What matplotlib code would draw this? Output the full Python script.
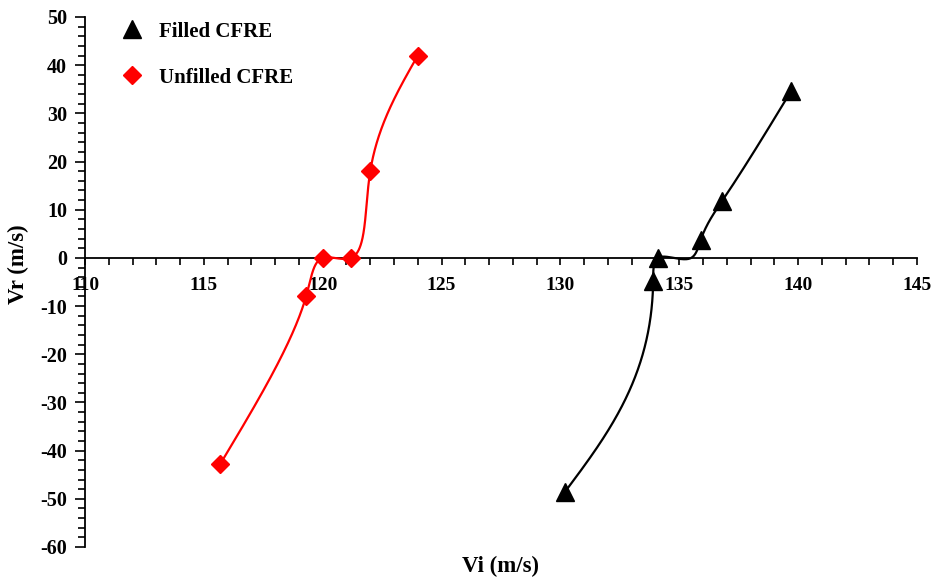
import numpy as np
import matplotlib
matplotlib.use("Agg")
import matplotlib.pyplot as plt
from matplotlib.lines import Line2D
from matplotlib.ticker import MultipleLocator

# Impact velocity (Vi) vs residual velocity (Vr)
filled_vi = [130.2, 133.9, 134.1, 135.9, 136.8, 139.7]
filled_vr = [-48.5, -4.8, 0.0, 3.7, 11.8, 34.6]
# knots of the fitted curve for the filled laminate (includes the zero crossing)
filled_curve_vi = [130.2, 133.9, 134.1, 135.5, 135.9, 136.8, 139.7]
filled_curve_vr = [-48.5, -4.8, 0.0, 0.0, 3.7, 11.8, 34.6]

unfilled_vi = [115.7, 119.3, 120.0, 121.2, 122.0, 124.0]
unfilled_vr = [-42.7, -8.0, 0.0, 0.0, 18.0, 42.0]

x_ticks = [110, 115, 120, 125, 130, 135, 140, 145]
y_ticks = [-60, -50, -40, -30, -20, -10, 0, 10, 20, 30, 40, 50]

plt.rcParams['font.family'] = ['Liberation Serif', 'DejaVu Serif']
plt.rcParams['font.weight'] = 'bold'
plt.rcParams['axes.unicode_minus'] = False

W, H = 936, 581
fig = plt.figure(figsize=(W / 100, H / 100), dpi=100)
ax = fig.add_axes([85 / W, 1 - 547 / H, (917 - 85) / W, (547 - 17) / H])
ax.set_xlim(110, 145)
ax.set_ylim(-60, 50)


def natural_spline_1d(t, y, tt):
    n = len(t)
    h = np.diff(t)
    A = np.zeros((n, n))
    b = np.zeros(n)
    A[0, 0] = A[-1, -1] = 1.0
    for i in range(1, n - 1):
        A[i, i - 1] = h[i - 1]
        A[i, i] = 2 * (h[i - 1] + h[i])
        A[i, i + 1] = h[i]
        b[i] = 6 * ((y[i + 1] - y[i]) / h[i] - (y[i] - y[i - 1]) / h[i - 1])
    M = np.linalg.solve(A, b)
    idx = np.clip(np.searchsorted(t, tt, side='right') - 1, 0, n - 2)
    t0, t1 = t[idx], t[idx + 1]
    hh = t1 - t0
    a = (t1 - tt) / hh
    c = (tt - t0) / hh
    return (a * y[idx] + c * y[idx + 1]
            + ((a ** 3 - a) * M[idx] + (c ** 3 - c) * M[idx + 1]) * hh ** 2 / 6)


def smooth_path(xs, ys, alpha=1.0, n=800):
    """Parametric natural cubic spline through the points, fitted in
    display space; alpha sets the knot spacing (1 = chord length)."""
    pts = ax.transData.transform(np.column_stack([xs, ys]))
    seg = np.hypot(*np.diff(pts, axis=0).T) ** alpha
    t = np.concatenate([[0], np.cumsum(seg)])
    tt = np.linspace(0, t[-1], n)
    px = natural_spline_1d(t, pts[:, 0], tt)
    py = natural_spline_1d(t, pts[:, 1], tt)
    data = ax.transData.inverted().transform(np.column_stack([px, py]))
    return data[:, 0], data[:, 1]


cx, cy = smooth_path(filled_curve_vi, filled_curve_vr, alpha=1.0)
ax.plot(cx, cy, color='black', lw=1.6, zorder=3, clip_on=False)
ax.plot(filled_vi, filled_vr, ls='none', marker='^', ms=12.5, color='black',
        zorder=4, clip_on=False)

ux, uy = smooth_path(unfilled_vi, unfilled_vr, alpha=0.6)
ax.plot(ux, uy, color='#ff0000', lw=1.6, zorder=3, clip_on=False)
ax.plot(unfilled_vi, unfilled_vr, ls='none', marker='D', ms=9.5, color='#ff0000',
        zorder=4, clip_on=False)

# axes styling: x axis crossing at Vr = 0
ax.spines['top'].set_visible(False)
ax.spines['right'].set_visible(False)
ax.spines['bottom'].set_position(('data', 0))
ax.spines['left'].set_linewidth(1.3)
ax.spines['bottom'].set_linewidth(1.3)
ax.spines['bottom'].set_zorder(2)

ax.set_xticks(x_ticks)
ax.set_yticks(y_ticks)
ax.xaxis.set_minor_locator(MultipleLocator(1))
ax.yaxis.set_minor_locator(MultipleLocator(2))
ax.tick_params(axis='x', which='both', direction='out', length=5, width=1.2,
               labelsize=14, pad=9)
ax.tick_params(axis='y', which='major', direction='out', length=7, width=1.2,
               labelsize=14.5, pad=6)
ax.tick_params(axis='y', which='minor', direction='out', length=5, width=1.2)
for lab in ax.get_xticklabels() + ax.get_yticklabels():
    lab.set_fontweight('bold')

fig.text(501 / W, 1 - 566 / H, 'Vi (m/s)', ha='center', va='center',
         fontsize=16.5, fontweight='bold')
fig.text(18 / W, 1 - 264 / H, 'Vr (m/s)', ha='center', va='center',
         rotation=90, fontsize=16.5, fontweight='bold')

handles = [
    Line2D([], [], ls='none', marker='^', ms=12.5, color='black'),
    Line2D([], [], ls='none', marker='D', ms=9.5, color='#ff0000'),
]
ax.legend(handles, ['Filled CFRE', 'Unfilled CFRE'], loc='upper left',
          bbox_to_anchor=(105 / W, 1 - 7 / H), bbox_transform=fig.transFigure,
          frameon=False, labelspacing=1.25, handlelength=1.2,
          handletextpad=0.7, borderpad=0.2, prop={'weight': 'bold', 'size': 15})

fig.savefig('out.png', dpi=100)
